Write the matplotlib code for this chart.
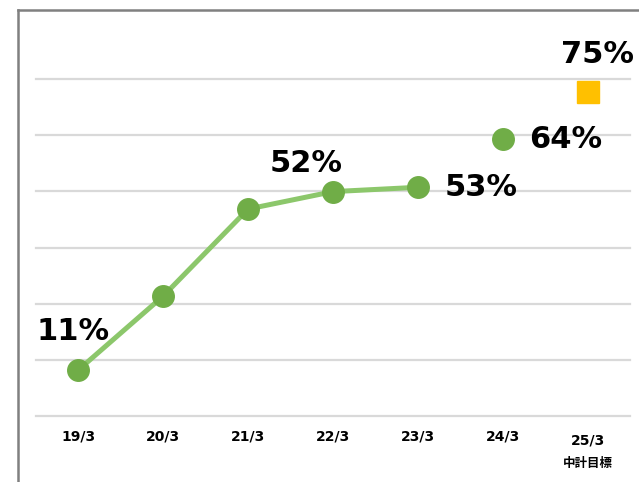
import matplotlib
matplotlib.use("Agg")
import matplotlib.pyplot as plt
import numpy as np
from matplotlib.lines import Line2D

plt.rcParams['font.family'] = ['DejaVu Sans', 'Noto Sans CJK JP']

categories = ["19/3", "20/3", "21/3", "22/3", "23/3", "24/3", "25/3"]
actual_values = [11, 28, 48, 52, 53]
forecast_value = 64
target_value = 75
target_note = "中計目標"

fig = plt.figure(figsize=(6.39, 4.82), dpi=100)
W, H = 639, 482
ax = fig.add_axes([36 / W, (H - 416) / H, (630 - 36) / W, (416 - 79) / H])

x = np.arange(len(categories))
ylo, yhi = 0.4, 77.9
ax.set_xlim(-0.5, len(categories) - 0.5)
ax.set_ylim(ylo, yhi)

for gy in np.linspace(ylo, yhi, 7):
    ax.axhline(gy, color="#D9D9D9", lw=1.6, zorder=0, clip_on=False)

line_green = "#8CC76B"
mark_green = "#70AD47"
xa = x[:len(actual_values)]
ax.plot(xa, actual_values, color=line_green, lw=3.6, zorder=2)
ax.plot(xa, actual_values, 'o', color=mark_green, ms=15.5, mec=mark_green, zorder=3)
ax.plot([x[5]], [forecast_value], 'o', color=mark_green, ms=15.5, zorder=3)
ax.plot([x[6]], [target_value], 's', color="#FFC000", ms=15.5, zorder=3, clip_on=False)

lab_kw = dict(fontsize=22, fontweight='bold', color='black', zorder=4, clip_on=False)
ax.annotate(f"{actual_values[0]}%", (x[0], actual_values[0]), xytext=(-4, 28),
            textcoords='offset points', ha='center', va='center', **lab_kw)
ax.annotate(f"{actual_values[3]}%", (x[3], actual_values[3]), xytext=(-19, 20),
            textcoords='offset points', ha='center', va='center', **lab_kw)
ax.annotate(f"{actual_values[4]}%", (x[4], actual_values[4]), xytext=(19, 0),
            textcoords='offset points', ha='left', va='center', **lab_kw)
ax.annotate(f"{forecast_value}%", (x[5], forecast_value), xytext=(19, 0),
            textcoords='offset points', ha='left', va='center', **lab_kw)
ax.annotate(f"{target_value}%", (x[6], target_value), xytext=(7, 27),
            textcoords='offset points', ha='center', va='center', **lab_kw)

ax.set_xticks([])
ax.set_yticks([])
for s in ax.spines.values():
    s.set_visible(False)

for i, c in enumerate(categories):
    yoff = 437 if i < 6 else 440
    fig.text((36 + (i + 0.5) * (594 / 7)) / W, (H - yoff) / H, c,
             ha='center', va='center', fontsize=10, fontweight='bold')
fig.text((36 + 6.5 * (594 / 7)) / W, (H - 464) / H, target_note,
         ha='center', va='center', fontsize=9, fontweight='bold',
         family=['Noto Sans CJK JP', 'DejaVu Sans'])

# outer frame (left and top edges visible)
fig.add_artist(Line2D([18 / W, 18 / W], [0, (H - 10) / H], color="#808080", lw=1.8,
                      transform=fig.transFigure))
fig.add_artist(Line2D([18 / W, 1.0], [(H - 10) / H, (H - 10) / H], color="#808080", lw=1.8,
                      transform=fig.transFigure))

fig.savefig("out.png", dpi=100)
